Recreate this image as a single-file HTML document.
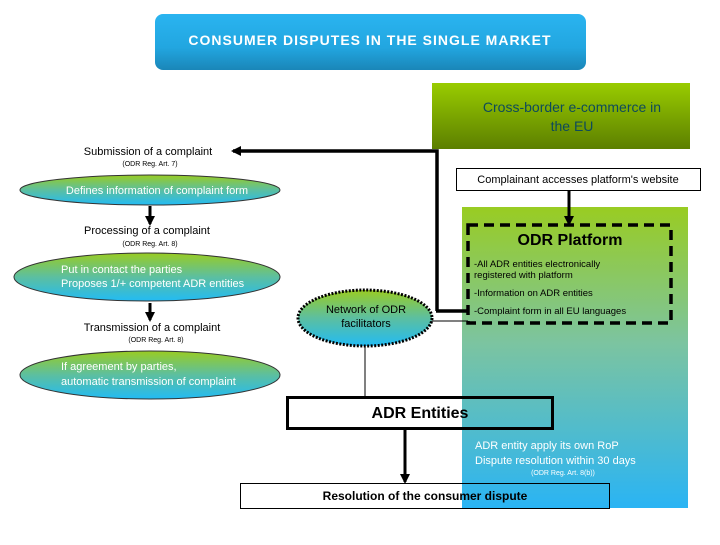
<!DOCTYPE html>
<html><head><meta charset="utf-8"><style>
body{margin:0;width:720px;height:540px;background:#fff;overflow:hidden;font-family:"Liberation Sans",Arial,sans-serif;}
</style></head><body>
<svg width="720" height="540" xmlns="http://www.w3.org/2000/svg" font-family="Liberation Sans, Arial, sans-serif">
<defs>
<linearGradient id="tg" x1="0" y1="0" x2="0" y2="1"><stop offset="0" stop-color="#2ab4f0"/><stop offset="0.6" stop-color="#22a6e0"/><stop offset="1" stop-color="#1a86b8"/></linearGradient>
<linearGradient id="cg" x1="0" y1="0" x2="0" y2="1"><stop offset="0" stop-color="#99cc00"/><stop offset="1" stop-color="#5c7f00"/></linearGradient>
<linearGradient id="pg" x1="0" y1="0" x2="0" y2="1"><stop offset="0" stop-color="#99cc22"/><stop offset="0.45" stop-color="#7cc4a0"/><stop offset="1" stop-color="#2ab4f4"/></linearGradient>
<linearGradient id="eg" x1="0" y1="0" x2="0" y2="1"><stop offset="0" stop-color="#99cc22"/><stop offset="0.5" stop-color="#5cbfa0"/><stop offset="1" stop-color="#22bbf4"/></linearGradient>
<marker id="ah" markerWidth="10" markerHeight="10" refX="8" refY="5" orient="auto" markerUnits="userSpaceOnUse"><path d="M0,0 L10,5 L0,10z" fill="#000"/></marker>
</defs>
<rect x="155" y="14" width="431" height="56" rx="8" fill="url(#tg)"/>
<text x="370" y="45" text-anchor="middle" font-size="14" font-weight="bold" fill="#fff" letter-spacing="1">CONSUMER DISPUTES IN THE SINGLE MARKET</text>
<rect x="432" y="83" width="258" height="66" fill="url(#cg)"/>
<text x="572" y="112" text-anchor="middle" font-size="14" fill="#0e4a5a">Cross-border e-commerce in</text>
<text x="572" y="131" text-anchor="middle" font-size="14" fill="#0e4a5a">the EU</text>
<rect x="462" y="207" width="226" height="301" fill="url(#pg)"/>
<rect x="456.5" y="168.5" width="244" height="22" fill="#fff" stroke="#000"/>
<text x="578" y="183" text-anchor="middle" font-size="11">Complainant accesses platform's website</text>
<rect x="468" y="225" width="203" height="98" fill="none" stroke="#000" stroke-width="3.5" stroke-dasharray="10,6"/>
<text x="570" y="245" text-anchor="middle" font-size="16" font-weight="bold">ODR  Platform</text>
<g font-size="9.5"><text x="474" y="267">-All ADR entities electronically</text><text x="474" y="278">registered with platform</text><text x="474" y="296">-Information on ADR entities</text><text x="474" y="314">-Complaint form in all EU languages</text></g>
<polyline points="437,311 437,151 233,151" fill="none" stroke="#000" stroke-width="3.5" marker-end="url(#ah)"/>
<line x1="436" y1="311" x2="468" y2="311" stroke="#000" stroke-width="3.5"/>
<line x1="569" y1="190" x2="569" y2="224" stroke="#000" stroke-width="3" marker-end="url(#ah)"/>
<line x1="430" y1="321" x2="468" y2="321" stroke="#000"/>
<line x1="365" y1="347" x2="365" y2="397" stroke="#000"/>
<text x="148" y="155" text-anchor="middle" font-size="11">Submission of a complaint</text>
<text x="150" y="166" text-anchor="middle" font-size="7">(ODR Reg. Art. 7)</text>
<ellipse cx="150" cy="190" rx="130" ry="15" fill="url(#eg)" stroke="#333"/>
<text x="157" y="194" text-anchor="middle" font-size="11" fill="#fff">Defines information of complaint form</text>
<line x1="150" y1="206" x2="150" y2="224" stroke="#000" stroke-width="3" marker-end="url(#ah)"/>
<text x="147" y="234" text-anchor="middle" font-size="11">Processing of a complaint</text>
<text x="150" y="246" text-anchor="middle" font-size="7">(ODR Reg. Art. 8)</text>
<ellipse cx="147" cy="277" rx="133" ry="24" fill="url(#eg)" stroke="#333"/>
<text x="61" y="273" font-size="11" fill="#fff">Put in contact the parties</text>
<text x="61" y="287" font-size="11" fill="#fff">Proposes 1/+ competent ADR entities</text>
<line x1="150" y1="303" x2="150" y2="320" stroke="#000" stroke-width="3" marker-end="url(#ah)"/>
<text x="152" y="331" text-anchor="middle" font-size="11">Transmission of a complaint</text>
<text x="156" y="342" text-anchor="middle" font-size="7">(ODR Reg. Art. 8)</text>
<ellipse cx="150" cy="375" rx="130" ry="24" fill="url(#eg)" stroke="#333"/>
<text x="61" y="370" font-size="11" fill="#fff">If agreement by parties,</text>
<text x="61" y="385" font-size="11" fill="#fff">automatic transmission of complaint</text>
<ellipse cx="365" cy="318" rx="67" ry="28" fill="url(#eg)" stroke="#000" stroke-width="3" stroke-dasharray="2,1.5"/>
<text x="366" y="313" text-anchor="middle" font-size="11">Network of ODR</text>
<text x="366" y="327" text-anchor="middle" font-size="11">facilitators</text>
<rect x="287.5" y="397.5" width="265" height="31" fill="none" stroke="#000" stroke-width="3"/>
<text x="420" y="418" text-anchor="middle" font-size="16" font-weight="bold">ADR Entities</text>
<line x1="405" y1="429" x2="405" y2="482" stroke="#000" stroke-width="3" marker-end="url(#ah)"/>
<text x="475" y="449" font-size="11" fill="#fff">ADR entity apply its own RoP</text>
<text x="475" y="464" font-size="11" fill="#fff">Dispute resolution within 30 days</text>
<text x="563" y="475" text-anchor="middle" font-size="7" fill="#fff">(ODR Reg. Art. 8(b))</text>
<rect x="240.5" y="483.5" width="369" height="25" fill="none" stroke="#000"/>
<text x="425" y="500" text-anchor="middle" font-size="12" font-weight="bold">Resolution of the consumer dispute</text>
</svg>
</body></html>
